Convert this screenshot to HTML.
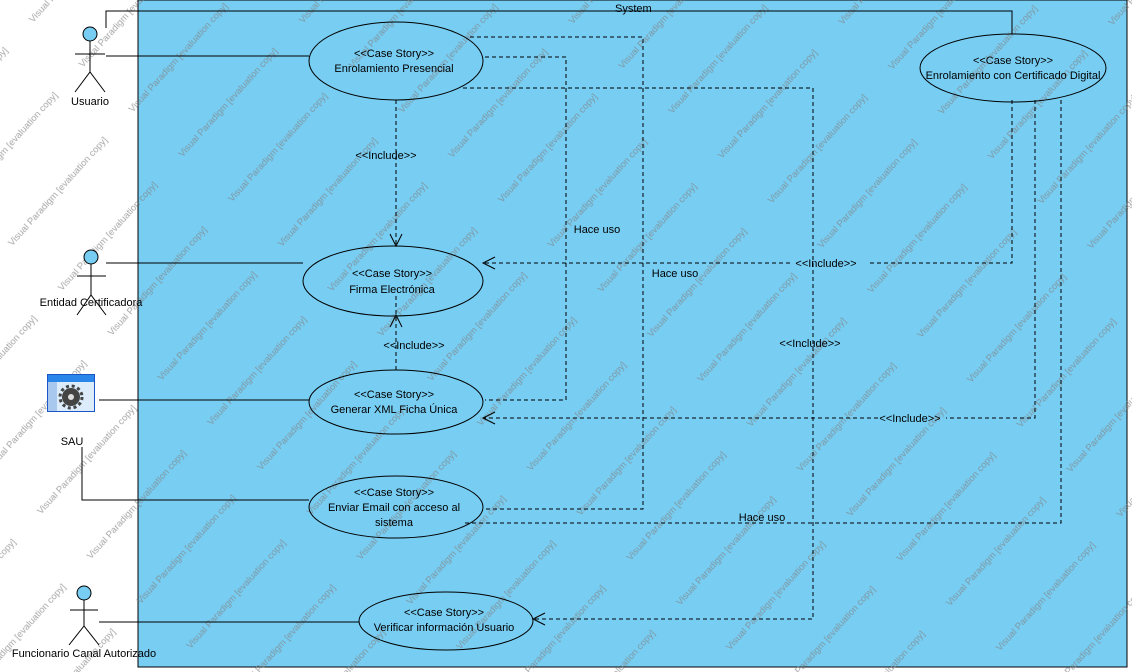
<!DOCTYPE html>
<html><head><meta charset="utf-8"><style>
html,body{margin:0;padding:0;background:#fff;width:1132px;height:672px;overflow:hidden}
svg{display:block}
text{font-family:"Liberation Sans",sans-serif;font-size:11px;fill:#000}
.wm{font-size:9.5px;fill:#808080;opacity:.7}
</style></head><body>
<svg width="1132" height="672" viewBox="0 0 1132 672">
<defs>
<pattern id="wmp" x="0" y="0" width="180" height="67" patternUnits="userSpaceOnUse" patternTransform="rotate(-48)">
<text class="wm" x="5" y="40">Visual Paradigm [evaluation copy]</text>
</pattern>
</defs>
<rect x="138" y="0" width="989" height="667" fill="#78cdf2" stroke="#000" stroke-width="1"/>
<rect x="0" y="0" width="1132" height="672" fill="url(#wmp)"/>
<text x="615" y="12">System</text>

<g stroke="#000" stroke-width="1" fill="none">
<polyline points="106,28 106,11 1012,11 1012,34"/>
<line x1="106" y1="56" x2="309" y2="56"/>
<line x1="106" y1="263" x2="303" y2="263"/>
<line x1="99" y1="400" x2="309" y2="400"/>
<polyline points="82,447 82,500 309,500"/>
<line x1="99" y1="622" x2="359" y2="622"/>
</g>

<g stroke="#000" stroke-width="1" fill="none" stroke-dasharray="4,3">
<line x1="396" y1="100" x2="396" y2="246"/>
<line x1="396" y1="370" x2="396" y2="296"/>
<polyline points="470,37 643,37 643,509 483,509"/>
<polyline points="485,57 566,57 566,400 485,400"/>
<polyline points="463,88 813,88 813,619 533,619"/>
<polyline points="1012,100 1012,263 868,263"/><line x1="790" y1="263" x2="483" y2="263"/>
<polyline points="1035,100 1035,418 946,418"/><line x1="878" y1="418" x2="483" y2="418"/>
<polyline points="1061,100 1061,523 463,523"/>
</g>
<g stroke="#000" stroke-width="1" fill="none">
<polyline points="390,234 396,246 402,234"/>
<polyline points="390,327 396,315 402,327"/>
<polyline points="495,257 483,263 495,269"/>
<polyline points="495,412 483,418 495,424"/>
<polyline points="545,613 533,619 545,625"/>
</g>

<g fill="#78cdf2" fill-opacity="0.001" stroke="#000" stroke-width="1">
<ellipse cx="396" cy="61" rx="87" ry="39"/>
<ellipse cx="393" cy="281" rx="90" ry="35"/>
<ellipse cx="396" cy="402" rx="87" ry="32"/>
<ellipse cx="396" cy="507" rx="87" ry="31"/>
<ellipse cx="446" cy="621" rx="87" ry="29"/>
<ellipse cx="1013" cy="68" rx="93" ry="34"/>
</g>
<g text-anchor="middle">
<text x="394" y="57">&lt;&lt;Case Story&gt;&gt;</text><text x="394" y="72">Enrolamiento Presencial</text>
<text x="392" y="277">&lt;&lt;Case Story&gt;&gt;</text><text x="392" y="293">Firma Electrónica</text>
<text x="394" y="398">&lt;&lt;Case Story&gt;&gt;</text><text x="394" y="413">Generar XML Ficha Única</text>
<text x="394" y="496">&lt;&lt;Case Story&gt;&gt;</text><text x="394" y="511">Enviar Email con acceso al</text><text x="394" y="526">sistema</text>
<text x="444" y="616">&lt;&lt;Case Story&gt;&gt;</text><text x="444" y="631">Verificar información Usuario</text>
<text x="1013" y="64">&lt;&lt;Case Story&gt;&gt;</text><text x="1013" y="79">Enrolamiento con Certificado Digital</text>
<text x="386" y="159">&lt;&lt;Include&gt;&gt;</text>
<text x="414" y="349">&lt;&lt;Include&gt;&gt;</text>
<text x="597" y="233">Hace uso</text>
<text x="675" y="277">Hace uso</text>
<text x="826" y="267">&lt;&lt;Include&gt;&gt;</text>
<text x="810" y="347">&lt;&lt;Include&gt;&gt;</text>
<text x="910" y="422">&lt;&lt;Include&gt;&gt;</text>
<text x="762" y="521">Hace uso</text>
<text x="90" y="105">Usuario</text>
<text x="91" y="306">Entidad Certificadora</text>
<text x="72" y="445">SAU</text>
<text x="84" y="657">Funcionario Canal Autorizado</text>
</g>

<g stroke="#000" stroke-width="1" fill="none">
<circle cx="90" cy="34" r="7" fill="#78cdf2"/>
<line x1="90" y1="41" x2="90" y2="72"/><line x1="75" y1="54" x2="105" y2="54"/>
<polyline points="75,92 90,72 105,92"/>
<circle cx="91" cy="257" r="7" fill="#78cdf2"/>
<line x1="91" y1="264" x2="91" y2="295"/><line x1="77" y1="276" x2="106" y2="276"/>
<polyline points="77,315 91,295 106,315"/>
<circle cx="84" cy="593" r="7" fill="#78cdf2"/>
<line x1="84" y1="600" x2="84" y2="626"/><line x1="70" y1="610" x2="98" y2="610"/>
<polyline points="69,645 84,626 99,645"/>
</g>
<rect x="47.5" y="374.5" width="47" height="37" fill="#dcecfb" stroke="#1b56c8"/>
<rect x="48" y="375" width="46" height="7" fill="#2a86e8"/>
<rect x="48" y="382" width="9" height="29" fill="#a9c8ee"/>
<circle cx="71" cy="397" r="9" fill="#444"/>
<circle cx="71" cy="397" r="11" fill="none" stroke="#444" stroke-width="3" stroke-dasharray="3,2.8"/>
<circle cx="71" cy="397" r="3" fill="#ddd"/>
</svg>
</body></html>
